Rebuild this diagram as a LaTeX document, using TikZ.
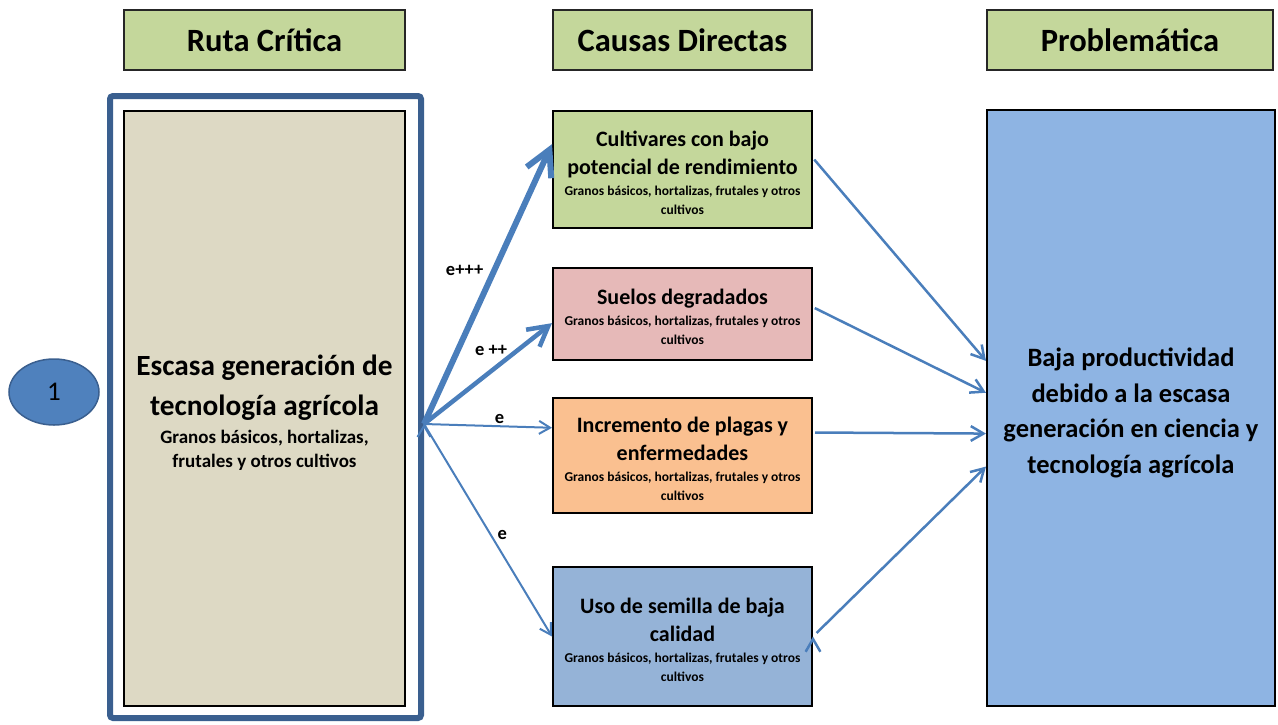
\documentclass[tikz,border=0pt]{standalone}
\usepackage{fontspec}
\setmainfont{Carlito}
\usetikzlibrary{arrows.meta,shapes.geometric}

\definecolor{headgreen}{HTML}{C4D79B}
\definecolor{sand}{HTML}{DDD9C4}
\definecolor{rose}{HTML}{E6B9B8}
\definecolor{peach}{HTML}{FAC090}
\definecolor{steel}{HTML}{95B3D7}
\definecolor{sky}{HTML}{8EB4E3}
\definecolor{navy}{HTML}{3A5F8F}
\definecolor{circblue}{HTML}{4F81BD}
\definecolor{linkblue}{HTML}{4A7EBB}

\newcommand{\cultivos}{\par\vspace{2pt}{\fontsize{13.5}{19}\selectfont Granos básicos, hortalizas, frutales y otros\\cultivos\par}}

\begin{document}
\begin{tikzpicture}[x=1pt, y=-1pt, >={Straight Barb[length=4pt 3.5, width=6pt 3.5]},
	heading/.style={draw=black!85, line width=1.5pt, fill=headgreen, minimum height=60pt, inner sep=0pt, font=\fontsize{32.5}{36}\selectfont\bfseries},
	cause/.style={draw=black, line width=2pt, minimum width=259pt, text width=255pt, align=flush center, inner sep=0pt, font=\fontsize{22}{28}\selectfont\bfseries, execute at begin node={\rule{0pt}{22pt}}},
	link/.style={->, draw=linkblue, line width=2pt},
	tag/.style={font=\fontsize{18.5}{20}\selectfont\bfseries, inner sep=2pt}]
	\useasboundingbox (0,0) rectangle (1278,724);

	\node (ruta) [heading, minimum width=281pt] at (264.5,40) {Ruta Crítica};
	\node (causas) [heading, minimum width=259pt] at (682.5,40) {Causas Directas};
	\node (problema) [heading, minimum width=286pt] at (1130,40) {Problemática};

	\node (marco) [draw=navy, line width=6pt, rounded corners=3pt, minimum width=311pt, minimum height=622pt] at (265.5,407) {};
	\node (ruta1) [draw=black, line width=2pt, fill=sand, minimum width=281pt, minimum height=595pt, text width=275pt, align=flush center, inner sep=0pt] at (264.5,408.5)
		{{\fontsize{29.3}{40}\selectfont\bfseries\rule{0pt}{28pt}Escasa generación de\\tecnología agrícola\par}\vspace{4pt}{\fontsize{19}{24}\selectfont\bfseries Granos básicos, hortalizas,\\frutales y otros cultivos\par}};
	\node (uno) [ellipse, draw=navy, line width=1.5pt, fill=circblue, minimum width=90pt, minimum height=66pt, font=\fontsize{27}{30}\selectfont] at (54,392) {1};

	\node (c1) [cause, fill=headgreen, minimum height=117pt] at (682.5,169.5) {Cultivares con bajo\\potencial de rendimiento\cultivos};
	\node (c2) [cause, fill=rose, minimum height=92pt] at (682.5,314) {Suelos degradados\cultivos};
	\node (c3) [cause, fill=peach, minimum height=115pt] at (682.5,455.5) {Incremento de plagas y\\enfermedades\cultivos};
	\node (c4) [cause, fill=steel, minimum height=139pt] at (682.5,636.5) {Uso de semilla de baja\\calidad\cultivos};

	\node (prob) [draw=black, line width=2pt, fill=sky, minimum width=288pt, minimum height=596pt, text width=282pt, align=flush center, inner sep=0pt, font=\fontsize{26.5}{35.5}\selectfont\bfseries] at (1131,408)
		{\rule{0pt}{28pt}Baja productividad\\debido a la escasa\\generación en ciencia y\\tecnología agrícola};

	\coordinate (nudo) at (marco.east |- 0,424);

	\path[link]
		(nudo) edge[line width=6pt] node[tag, pos=0.55, left=6pt] {e+++} (c1.169)
		(nudo) edge[line width=4.5pt] node[tag, pos=0.73, left=6pt] {e ++} (c2.184)
		(nudo) edge node[tag, pos=0.59, above] {e} (c3.168)
		(nudo) edge node[tag, pos=0.52, right=4pt] {e} (c4.west);

	\path[link, line width=2.5pt, shorten <=2pt]
		(c1.5) edge (prob.162)
		(c2.3) edge (prob.174)
		(c3.10) edge (prob.190)
		(c4.east) edge[shorten <=5pt] (prob.202);
\end{tikzpicture}
\end{document}
